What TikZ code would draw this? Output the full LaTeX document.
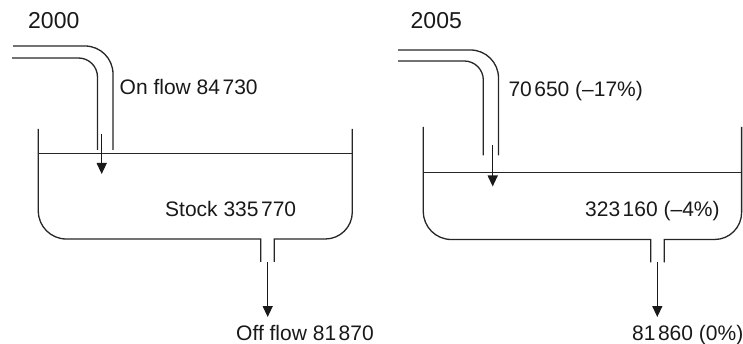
\documentclass[tikz,border=0pt]{standalone}
\usepackage{fontspec}
\setmainfont{Liberation Sans}
\usetikzlibrary{arrows.meta}
\newcommand{\tsp}{\kern0.12em}
\begin{document}
\begin{tikzpicture}[x=1pt,y=-1pt,
  wall/.style={line width=1.3pt,draw=black!85},
  flowarrow/.style={line width=1.3pt,draw=black!90,-{Triangle[width=10pt,length=11pt]}},
  lbl/.style={anchor=base west,inner sep=0pt,font=\fontsize{21}{25}\selectfont,text=black!90},
  yearlbl/.style={lbl,font=\fontsize{23}{27}\selectfont}]
\useasboundingbox (0,0) rectangle (743,344);
% ---------- 2000 ----------
\node[yearlbl] (y1) at (28,29) {2000};
\draw[wall,rounded corners=28pt] (13,46) -- (113,46) -- (113,150);
\draw[wall,rounded corners=19pt] (12,58) -- (97.5,58) -- (97.5,150);
\draw[wall] (38.3,129) [rounded corners=28pt] -- (38.3,239) [sharp corners] -- (260.7,239) -- (260.7,262);
\draw[wall] (352.3,129) [rounded corners=27pt] -- (352.3,239) [sharp corners] -- (274.3,239) -- (274.3,262);
\draw[wall] (38.3,153.7) -- (352.3,153.7);
\node[lbl] (on1) at (119.5,95) {On flow 84\tsp730};
\node[lbl] (st1) at (165,216.3) {Stock 335\tsp770};
\node[lbl] (off1) at (236,340.5) {Off flow 81\tsp870};
\coordinate (a1s) at (101.7,134);
\coordinate (a1e) at (101.7,174);
\draw[flowarrow] (a1s) -- (a1e);
\coordinate (b1s) at (267.7,262);
\coordinate (b1e) at (267.7,317);
\draw[flowarrow] (b1s) -- (b1e);
% ---------- 2005 ----------
\node[yearlbl] (y2) at (410.5,29) {2005};
\draw[wall,rounded corners=28pt] (398,50) -- (498.5,50) -- (498.5,155.5);
\draw[wall,rounded corners=19pt] (398,61) -- (483.3,61) -- (483.3,155.5);
\draw[wall] (423.3,127) [rounded corners=28pt] -- (423.3,239.5) [sharp corners] -- (650.7,239.5) -- (650.7,262.5);
\draw[wall] (741.6,127) [rounded corners=27pt] -- (741.6,239.5) [sharp corners] -- (664.3,239.5) -- (664.3,262.5);
\draw[wall] (423.3,172.3) -- (741.6,172.3);
\node[lbl] (on2) at (508.3,96.5) {70\tsp650 (–17\%)};
\node[lbl] (st2) at (585,216.3) {323\tsp160 (–4\%)};
\node[lbl] (off2) at (632,340.5) {81\tsp860 (0\%)};
\coordinate (a2s) at (492.7,145);
\coordinate (a2e) at (492.7,186.5);
\draw[flowarrow] (a2s) -- (a2e);
\coordinate (b2s) at (657.3,262.5);
\coordinate (b2e) at (657.3,317);
\draw[flowarrow] (b2s) -- (b2e);
\end{tikzpicture}
\end{document}
